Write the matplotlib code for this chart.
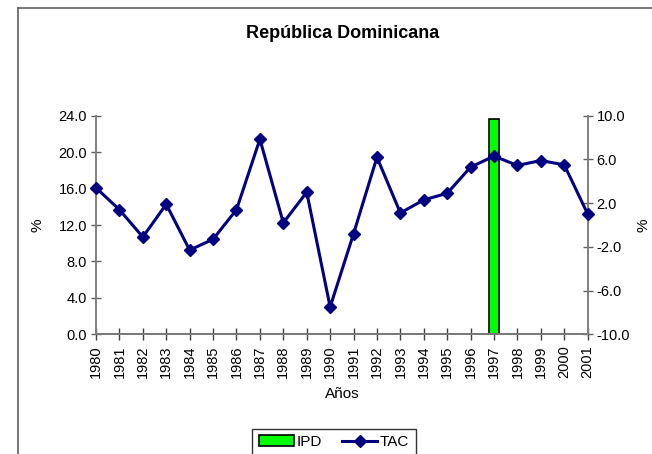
import matplotlib.pyplot as plt
from matplotlib.lines import Line2D
from matplotlib.patches import Patch

plt.rcParams['font.family'] = ['Liberation Sans', 'DejaVu Sans']

years = [str(y) for y in range(1980, 2002)]
# TAC: tasa anual de crecimiento (eje derecho)
tac = [3.4, 1.4, -1.1, 1.9, -2.3, -1.3, 1.4, 7.85, 0.2, 3.0,
       -7.5, -0.8, 6.2, 1.1, 2.3, 2.9, 5.3, 6.3, 5.45, 5.9, 5.5, 1.0]
# IPD solo tiene dato en 1997 (eje izquierdo)
ipd_year = '1997'
ipd_value = 23.6

left_ticks = [0, 4, 8, 12, 16, 20, 24]
right_ticks = [-10, -6, -2, 2, 6, 10]

fig = plt.figure(figsize=(6.52, 4.54), dpi=100)
ax = fig.add_axes([96 / 652, 1 - 334.3 / 454, 491.7 / 652, 218.6 / 454])
ax2 = ax.twinx()

x = list(range(len(years)))
ax.bar(years.index(ipd_year), ipd_value, width=0.42, color='#00ff00',
       edgecolor='black', linewidth=1.2, zorder=2)
ax2.plot(x, tac, color='#000080', lw=2.2, marker='D', markersize=6.5,
         zorder=3, clip_on=False)

ax.set_xlim(0, len(years) - 1)
ax.set_ylim(0, 24)
ax2.set_ylim(-10, 10)
ax.set_yticks(left_ticks)
ax.set_yticklabels(['%.1f' % v for v in left_ticks])
ax2.set_yticks(right_ticks)
ax2.set_yticklabels(['%.1f' % v for v in right_ticks])
ax.set_xticks(x)
ax.set_xticklabels(years, rotation=90)

for a in (ax, ax2):
    a.spines['top'].set_visible(False)
    for s in ('left', 'right', 'bottom'):
        a.spines[s].set_color('#808080')
        a.spines[s].set_linewidth(1.2)
    a.tick_params(direction='inout', length=7, width=1, color='#606060',
                  labelsize=10.5, pad=3)
ax.tick_params(axis='x', length=8, color='#404040', pad=4)
ax.spines['bottom'].set_color('#404040')
ax.patch.set_visible(False)

ax.set_ylabel('%', fontsize=11, labelpad=10)
ax.set_xlabel('Años', fontsize=11, labelpad=6)
# etiqueta del eje derecho, pegada al borde
fig.text(643 / 652, 1 - 225 / 454, '%', rotation=90, ha='center',
         va='center', fontsize=11)
fig.text(343 / 652, 1 - 33 / 454, 'República Dominicana', ha='center',
         va='center', fontsize=13, fontweight='bold')

handles = [Patch(facecolor='#00ff00', edgecolor='black', linewidth=1.2),
           Line2D([], [], color='#000080', lw=2.2, marker='D', markersize=6.5)]
leg = fig.legend(handles, ['IPD', 'TAC'], loc='upper center',
                 bbox_to_anchor=(334 / 652, 1 - 429 / 454), ncol=2,
                 fontsize=11, frameon=True, fancybox=False,
                 handlelength=2.3, columnspacing=1.3, borderpad=0.4,
                 handletextpad=0.2, borderaxespad=0)
leg.get_frame().set_edgecolor('black')
leg.get_frame().set_linewidth(1)

# marco exterior del grafico
fig.add_artist(Line2D([18 / 652, 18 / 652], [0, 1 - 8 / 454],
                      transform=fig.transFigure, color='#606060', lw=1.2))
fig.add_artist(Line2D([18 / 652, 1], [1 - 8 / 454, 1 - 8 / 454],
                      transform=fig.transFigure, color='#606060', lw=1.2))

fig.savefig('out.png', dpi=100)
